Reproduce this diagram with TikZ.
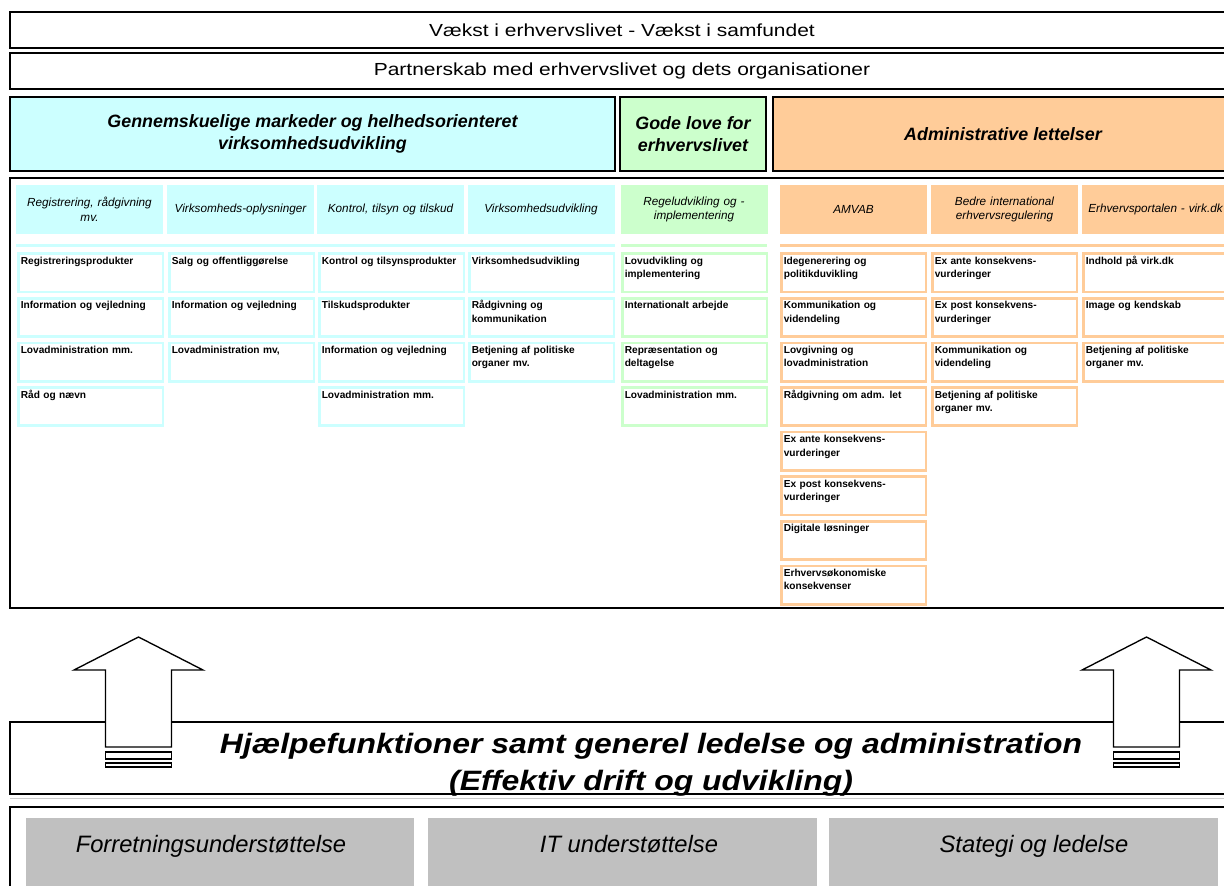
\documentclass[tikz,border=0pt]{standalone}
\usepackage{fontspec}
\setmainfont{Liberation Sans}
\newfontfamily\widefont[FakeStretch=1.2]{Liberation Sans}
\newfontfamily\supportfont[FakeStretch=1.14]{Liberation Sans}
\definecolor{markcyan}{HTML}{CCFFFF}
\definecolor{lawgreen}{HTML}{CCFFCC}
\definecolor{adminorange}{HTML}{FFCC99}
\definecolor{supportgrey}{HTML}{C0C0C0}
\tikzset{
  bar/.style={draw, line width=2pt, minimum width=918pt, minimum height=27pt, inner sep=0pt, font=\widefont\fontsize{13.1}{15}\selectfont},
  goal/.style={draw, line width=2pt, minimum height=55.5pt, inner sep=0pt, align=center, font=\bfseries\itshape\fontsize{13.4}{16.5}\selectfont},
  colhead/.style={minimum width=110.25pt, minimum height=36.75pt, inner sep=0pt, text width=106pt, align=center, font=\itshape\fontsize{8.8}{11}\selectfont},
  itembox/.style={draw=#1, fill=white, line width=2pt, anchor=north west, minimum width=108.25pt, inner xsep=1.5pt, inner ysep=2pt, text width=105pt, align=left, text height=6pt, text depth=18.75pt, font=\bfseries\fontsize{7.6}{10}\selectfont},
  strip/.style={draw=#1, line width=2.25pt},
  uparrow/.style={draw, fill=white, line width=1pt, line join=miter},
  greybox/.style={fill=supportgrey, minimum height=61.5pt, inner sep=0pt},
  greylabel/.style={anchor=base, font=\itshape\fontsize{17.8}{20}\selectfont},
  supportline/.style={anchor=base, font=\supportfont\bfseries\itshape\fontsize{21}{26}\selectfont}
}
\newcommand\itemcol[4]{%
  \foreach \txt [count=\r] in {#4}
    \node[itembox=#3] (#1-\r) at ({#2+1.3},{207.7+44.6*\r}) {\txt};
}
\begin{document}
\begin{tikzpicture}[x=0.75pt,y=-0.75pt]
\useasboundingbox (0,0) rectangle (1224,885);
\fill[white] (0,0) rectangle (1224,885);
\clip (0,0) rectangle (1224,885);

\node[bar] (growth) at (622,30) {Vækst i erhvervslivet - Vækst i samfundet};
\node[bar] (partner) at (622,71) {Partnerskab med erhvervslivet og dets organisationer};

\node[goal, fill=markcyan, minimum width=453.75pt] (markets) at (312.5,134) {Gennemskuelige markeder og helhedsorienteret\\virksomhedsudvikling};
\node[goal, fill=lawgreen, minimum width=109.5pt] (laws) at (693,134) {Gode love for\\erhvervslivet};
\node[goal, fill=adminorange, minimum width=345pt] (admin) at (1003,134) {Administrative lettelser};

\draw[line width=2pt] (10,178) rectangle (1234,608);

\node[colhead, fill=markcyan] (h1) at (89.5,209.5) {Registrering, rådgivning\\mv.};
\node[colhead, fill=markcyan] (h2) at (240.5,209.5) {Virksomheds-oplysninger};
\node[colhead, fill=markcyan] (h3) at (390.5,209.5) {Kontrol, tilsyn og tilskud};
\node[colhead, fill=markcyan] (h4) at (541,209.5) {Virksomhedsudvikling};
\node[colhead, fill=lawgreen] (h5) at (694,209.5) {Regeludvikling og -\\implementering};
\node[colhead, fill=adminorange] (h6) at (853.5,209.5) {AMVAB};
\node[colhead, fill=adminorange] (h7) at (1004.5,209.5) {Bedre international\\erhvervsregulering};
\node[colhead, fill=adminorange] (h8) at (1155.5,209.5) {Erhvervsportalen - virk.dk};

\draw[strip=markcyan] (16,245.5) -- (615,245.5);
\draw[strip=lawgreen] (621,245.5) -- (767,245.5);
\draw[strip=adminorange] (780,245.5) -- (1234,245.5);

\itemcol{c1}{16}{markcyan}{Registreringsprodukter, Information og vejledning, Lovadministration mm., Råd og nævn}
\itemcol{c2}{167}{markcyan}{Salg og offentliggørelse, Information og vejledning, {Lovadministration mv,}}
\itemcol{c3}{317}{markcyan}{Kontrol og tilsynsprodukter, Tilskudsprodukter, Information og vejledning, Lovadministration mm.}
\itemcol{c4}{467}{markcyan}{Virksomhedsudvikling, {Rådgivning og\\kommunikation}, {Betjening af politiske\\organer mv.}}
\itemcol{c5}{620}{lawgreen}{{Lovudvikling og\\implementering}, Internationalt arbejde, {Repræsentation og\\deltagelse}, Lovadministration mm.}
\itemcol{c6}{779}{adminorange}{{Idegenerering og\\politikduvikling}, {Kommunikation og\\videndeling}, {Lovgivning og\\lovadministration}, Rådgivning om adm. let, {Ex ante konsekvens-\\vurderinger}, {Ex post konsekvens-\\vurderinger}, Digitale løsninger, {Erhvervsøkonomiske\\konsekvenser}}
\itemcol{c7}{930}{adminorange}{{Ex ante konsekvens-\\vurderinger}, {Ex post konsekvens-\\vurderinger}, {Kommunikation og\\videndeling}, {Betjening af politiske\\organer mv.}}
\itemcol{c8}{1081}{adminorange}{Indhold på virk.dk, Image og kendskab, {Betjening af politiske\\organer mv.}}

\draw[line width=2pt] (10,722) rectangle (1234,794);
\draw[gray!40, line width=0.75pt] (10,798) -- (1234,798);
\node[supportline] (support1) at (651,753) {Hjælpefunktioner samt generel ledelse og administration};
\node[supportline] (support2) at (651,790) {(Effektiv drift og udvikling)};

\foreach \ax in {138.5,1146.5} {
  \draw[uparrow] ({\ax-33},747) -- ({\ax-33},670) -- ({\ax-64.5},670) -- (\ax,637)
    -- ({\ax+64.5},670) -- ({\ax+33},670) -- ({\ax+33},747) -- cycle;
  \draw[uparrow] ({\ax-33},752) rectangle ({\ax+33},759);
  \draw[uparrow] ({\ax-33},763) rectangle ({\ax+33},767);
}

\draw[line width=2pt] (10,807) rectangle (1234,900);
\node[greybox, minimum width=291pt] (business) at (220,859) {};
\node[greybox, minimum width=291.75pt] (itsupport) at (622.5,859) {};
\node[greybox, minimum width=291.75pt] (strategy) at (1023.5,859) {};
\node[greylabel] (businesstext) at (211,852) {Forretningsunderstøttelse};
\node[greylabel] (ittext) at (629,852) {IT understøttelse};
\node[greylabel] (strategytext) at (1034,852) {Stategi og ledelse};
\end{tikzpicture}
\end{document}
